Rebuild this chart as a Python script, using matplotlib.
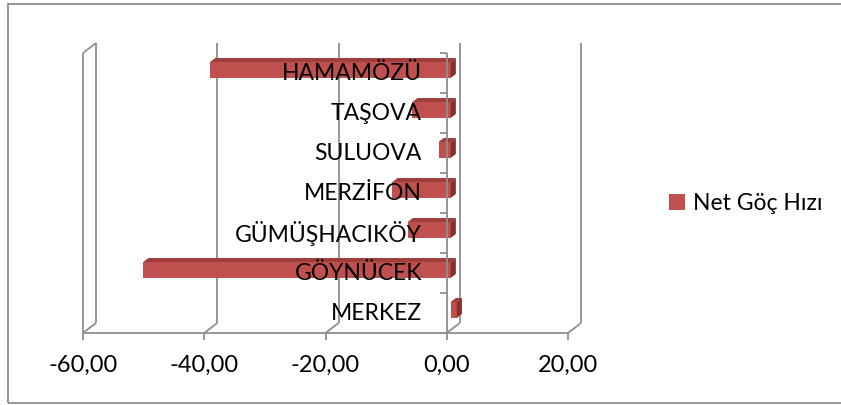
import matplotlib.pyplot as plt
from matplotlib.patches import Polygon, Rectangle, Patch

# --- data ---
districts = ["MERKEZ", "GÖYNÜCEK", "GÜMÜŞHACIKÖY", "MERZİFON", "SULUOVA", "TAŞOVA", "HAMAMÖZÜ"]
net_goc = [1.0, -50.7, -7.1, -9.6, -2.0, -6.3, -39.7]
x_ticks = [-60, -40, -20, 0, 20]
series_name = "Net Göç Hızı"

# --- style ---
plt.rcParams['font.family'] = ['Lato', 'DejaVu Sans']
FS = 16.5
GRID = '#8E8E8E'
FRONT = '#C0504D'
TOP = '#9F3E3B'
SIDE = '#86302D'

W, H = 841, 405
fig = plt.figure(figsize=(W / 100, H / 100), dpi=100)

# front plane of the 3d box, in pixels
px_left, px_right, px_bottom, px_top = 83, 568, 333, 53
ax = fig.add_axes([px_left / W, 1 - px_bottom / H,
                   (px_right - px_left) / W, (px_bottom - px_top) / H])
xmin, xmax = x_ticks[0], x_ticks[-1]
n = len(districts)
ax.set_xlim(xmin, xmax)
ax.set_ylim(0, n)

# depth offset (13px right, 10px up) in data units
px_per_x = (px_right - px_left) / (xmax - xmin)
px_per_y = (px_bottom - px_top) / n
DX = 13 / px_per_x
DY = 10 / px_per_y

for s in ax.spines.values():
    s.set_visible(False)
ax.set_yticks([])
ax.set_xticks(x_ticks)
ax.set_xticklabels([f"{v:.2f}".replace('.', ',') for v in x_ticks], fontsize=FS + 0.5)
ax.tick_params(axis='x', length=5, width=1.3, color=GRID, pad=11)

lk = dict(color=GRID, lw=1.3, clip_on=False, solid_capstyle='butt')

# back wall gridlines + floor diagonals
for t in x_ticks:
    ax.plot([t + DX, t + DX], [DY, n + DY], **lk)
    ax.plot([t, t + DX], [0, DY], **lk)
# left side wall
ax.plot([xmin, xmin], [0, n], **lk)
ax.plot([xmin, xmin + DX], [n, n + DY], **lk)
# floor front edge
ax.plot([xmin, xmax], [0, 0], **lk)

# bars
f0, f1 = 0.3, 0.7
bh = 0.4
for i, v in enumerate(net_goc):
    yc = i + 0.5
    x0, x1 = min(0, v), max(0, v)
    ox, oy = f0 * DX, f0 * DY
    dx, dy = (f1 - f0) * DX, (f1 - f0) * DY
    yb, yt = yc - bh / 2 + oy, yc + bh / 2 + oy
    front = Polygon([(x0 + ox, yb), (x1 + ox, yb), (x1 + ox, yt), (x0 + ox, yt)],
                    closed=True, fc=FRONT, ec='none', zorder=3, clip_on=False)
    top = Polygon([(x0 + ox, yt), (x1 + ox, yt), (x1 + ox + dx, yt + dy), (x0 + ox + dx, yt + dy)],
                  closed=True, fc=TOP, ec='none', zorder=3, clip_on=False)
    side = Polygon([(x1 + ox, yb), (x1 + ox + dx, yb + dy), (x1 + ox + dx, yt + dy), (x1 + ox, yt)],
                   closed=True, fc=SIDE, ec='none', zorder=3, clip_on=False)
    for p in (front, top, side):
        ax.add_patch(p)

# category axis at zero on the front plane
ax.plot([0, 0], [0, n], zorder=4, **lk)
tick_len = 7 / px_per_x
for i in range(n + 1):
    ax.plot([-tick_len, 0], [i, i], zorder=4, **lk)

# category labels
label_x = xmin + (422 - px_left) / px_per_x
for i, name in enumerate(districts):
    ax.text(label_x, i + 0.5, name, ha='right', va='center', fontsize=FS, zorder=5)

# legend
fig.legend(handles=[Patch(fc=FRONT, ec='none')], labels=[series_name],
           loc='center left', bbox_to_anchor=(669 / W, 1 - 204 / H),
           frameon=False, fontsize=FS, handlelength=0.7, handleheight=0.7,
           handletextpad=0.35, borderpad=0, borderaxespad=0)

# chart area border (right edge lies outside the picture)
fig.patches.append(Rectangle((8 / W, 2 / H), (860 - 8) / W, (401 - 2) / H,
                             transform=fig.transFigure, fill=False,
                             ec='#8C8C8C', lw=1.3))

fig.savefig('out.png', dpi=100)
